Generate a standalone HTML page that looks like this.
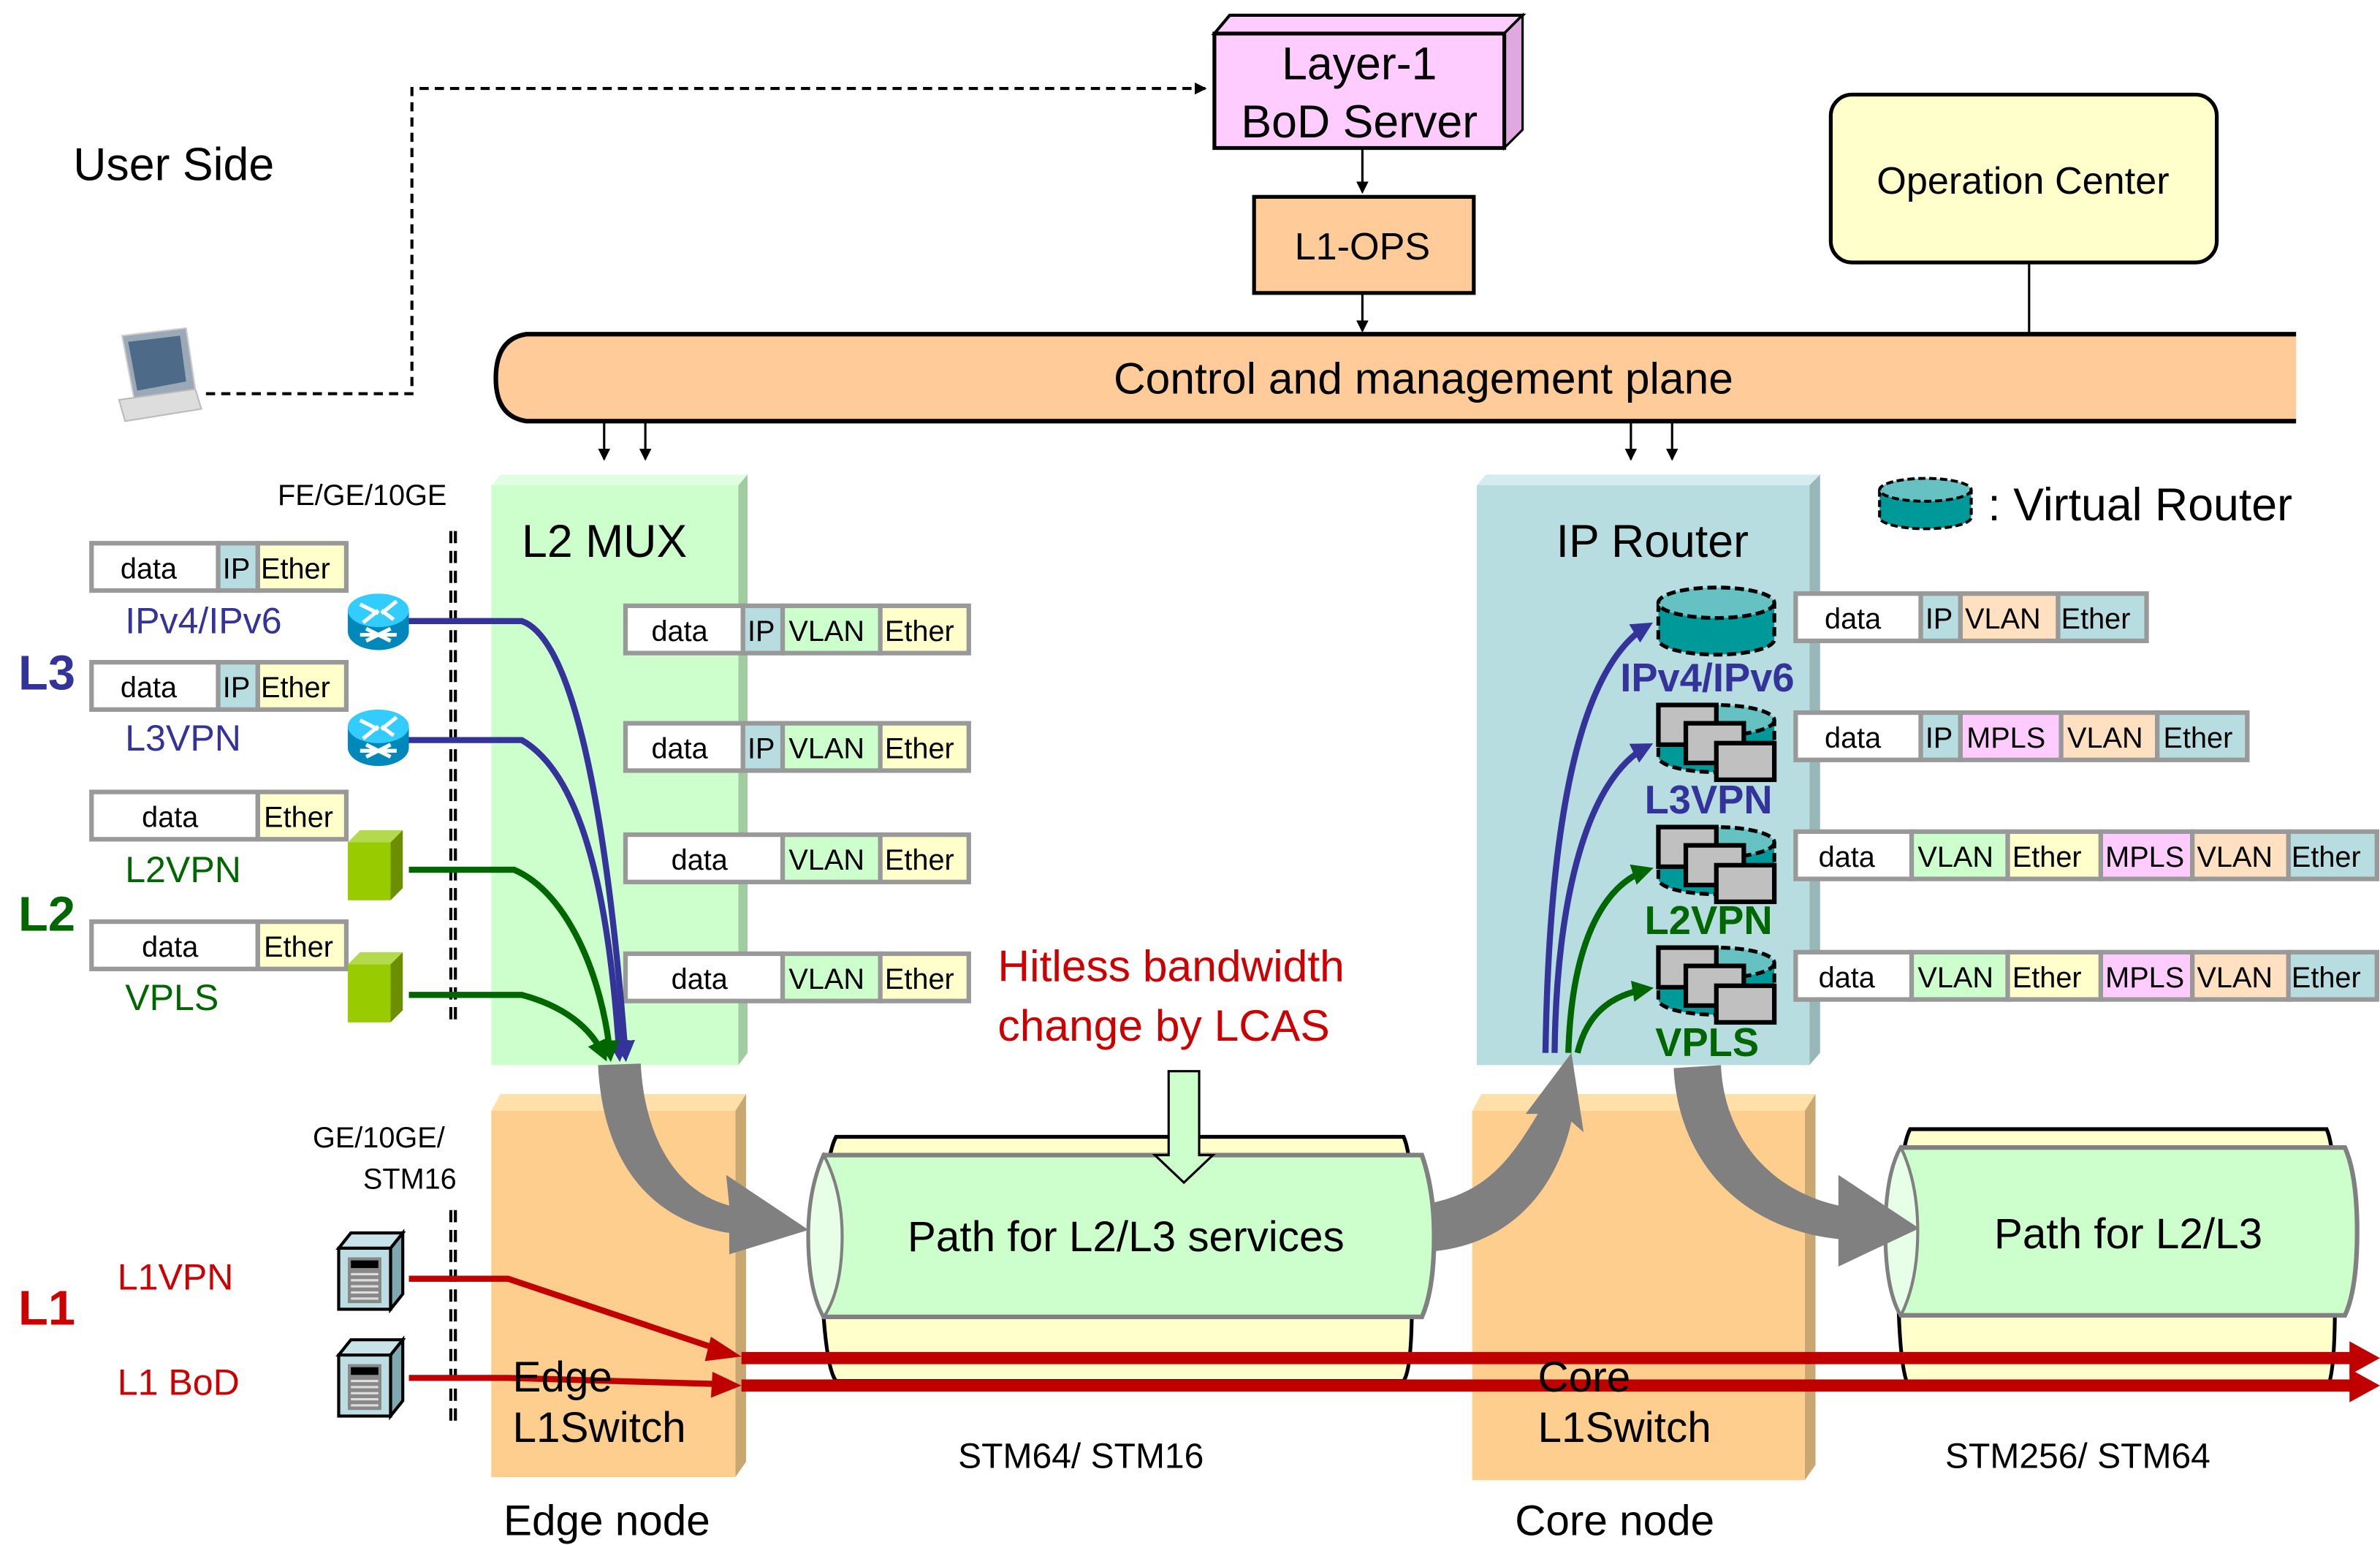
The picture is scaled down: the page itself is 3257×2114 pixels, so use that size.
<!DOCTYPE html>
<html><head><meta charset="utf-8"><style>
html,body{margin:0;padding:0;background:#fff;}
svg{display:block;}
text{font-family:"Liberation Sans",sans-serif;}
</style></head><body>
<svg width="3257" height="2114" viewBox="0 0 1560 1012.5" preserveAspectRatio="none" xmlns="http://www.w3.org/2000/svg">
<defs>
<marker id="ah" markerWidth="8" markerHeight="8" refX="7" refY="4" orient="auto" markerUnits="userSpaceOnUse"><path d="M0,0 L8,4 L0,8 z" fill="#000"/></marker>
<marker id="ahb" markerWidth="14" markerHeight="14" refX="10" refY="7" orient="auto" markerUnits="userSpaceOnUse"><path d="M0,0 L14,7 L0,14 z" fill="#333399"/></marker>
<marker id="ahg" markerWidth="14" markerHeight="14" refX="10" refY="7" orient="auto" markerUnits="userSpaceOnUse"><path d="M0,0 L14,7 L0,14 z" fill="#006600"/></marker>
<g id="router">
<ellipse cx="20" cy="26" rx="20" ry="12" fill="#0088bb"/>
<rect x="0" y="12" width="40" height="14" fill="#0088bb"/>
<ellipse cx="20" cy="12" rx="20" ry="11" fill="#33ccff"/>
<path d="M8,8 L20,14 M32,6 L22,14 M10,20 L20,12 M30,18 L22,12 M8,28 L32,28 M12,24 L28,32 M12,32 L28,24" stroke="#fff" stroke-width="2.5"/>
</g>
<g id="cube">
<rect x="0" y="8" width="28" height="38" fill="#99cc00"/>
<polygon points="0,8 8,0 36,0 28,8" fill="#b3d94d"/>
<polygon points="28,8 36,0 36,38 28,46" fill="#6b8f00"/>
</g>
<g id="server">
<polygon points="0,10 8,0 42,0 34,10" fill="#c8e4e8" stroke="#000" stroke-width="2"/>
<polygon points="34,10 42,0 42,40 34,50" fill="#7fa8b0" stroke="#000" stroke-width="2"/>
<rect x="0" y="10" width="34" height="40" fill="#bcdde2" stroke="#000" stroke-width="2"/>
<rect x="6" y="16" width="22" height="30" fill="#888"/>
<rect x="8" y="18" width="18" height="5" fill="#000"/>
<path d="M8,27h18M8,31h18M8,35h18M8,39h18M8,43h18" stroke="#ddd" stroke-width="1.5"/>
</g>
<g id="vr">
<path d="M0,12 L0,36 A38,10 0 0 0 76,36 L76,12" fill="#009999" stroke="#000" stroke-width="2.5" stroke-dasharray="6,3"/>
<ellipse cx="38" cy="12" rx="38" ry="10" fill="#66c2c2" stroke="#000" stroke-width="2.5" stroke-dasharray="6,3"/>
</g>
<g id="vrb">
<use href="#vr"/>
<rect x="0" y="2" width="38" height="26" fill="#c0c0c0" stroke="#000" stroke-width="3"/>
<rect x="18" y="14" width="38" height="26" fill="#c0c0c0" stroke="#000" stroke-width="3"/>
<rect x="38" y="27" width="38" height="24" fill="#c0c0c0" stroke="#000" stroke-width="3"/>
</g>
</defs>

<!-- User side -->
<text x="48" y="118" font-size="30">User Side</text>
<g>
<polygon points="80,220 122,215 128,255 88,262" fill="#9aa8b8" stroke="#ccc"/>
<polygon points="84,224 118,220 122,250 90,256" fill="#4d6b88"/>
<polygon points="78,262 128,255 132,268 82,276" fill="#ddd" stroke="#bbb"/>
</g>
<path d="M135,258 H270 V58 H790" fill="none" stroke="#000" stroke-width="2" stroke-dasharray="6,4" marker-end="url(#ah)"/>

<!-- BoD server -->
<polygon points="796,22 806,10 998,10 986,22" fill="#ffccff" stroke="#000" stroke-width="2"/>
<polygon points="986,22 998,10 998,85 986,97" fill="#e0a8e0" stroke="#000" stroke-width="1.5"/>
<rect x="796" y="22" width="190" height="75" fill="#ffccff" stroke="#000" stroke-width="2.5"/>
<text x="891" y="52" font-size="30" text-anchor="middle">Layer-1</text>
<text x="891" y="90" font-size="30" text-anchor="middle">BoD Server</text>
<line x1="893" y1="97" x2="893" y2="126" stroke="#000" stroke-width="1.5" marker-end="url(#ah)"/>
<rect x="822" y="129" width="144" height="63" fill="#ffcc99" stroke="#000" stroke-width="2.5"/>
<text x="893" y="170" font-size="25" text-anchor="middle">L1-OPS</text>
<line x1="893" y1="192" x2="893" y2="217" stroke="#000" stroke-width="1.5" marker-end="url(#ah)"/>

<!-- Operation center -->
<rect x="1200" y="62" width="253" height="110" rx="14" fill="#ffffcc" stroke="#000" stroke-width="2.5"/>
<text x="1326" y="127" font-size="25" text-anchor="middle">Operation Center</text>
<line x1="1330" y1="172" x2="1330" y2="219" stroke="#000" stroke-width="1.5"/>

<!-- control plane -->
<path d="M1505,219 H345 Q325,222 325,248 Q325,273 345,276 H1505 Z" fill="#ffcc99"/>
<path d="M1505,219 H345 Q325,222 325,248 Q325,273 345,276 H1505" fill="none" stroke="#000" stroke-width="3"/>
<text x="933" y="258" font-size="29" text-anchor="middle">Control and management plane</text>
<g stroke="#000" stroke-width="1.5">
<line x1="396" y1="277" x2="396" y2="301" marker-end="url(#ah)"/>
<line x1="423" y1="277" x2="423" y2="301" marker-end="url(#ah)"/>
<line x1="1069" y1="277" x2="1069" y2="301" marker-end="url(#ah)"/>
<line x1="1096" y1="277" x2="1096" y2="301" marker-end="url(#ah)"/>
</g>

<!-- L2 MUX -->
<polygon points="322,318 328,311 490,311 484,318" fill="#e0ffe0"/>
<polygon points="484,318 490,311 490,690 484,698" fill="#a0cca0"/>
<rect x="322" y="318" width="162" height="380" fill="#ccffcc"/>
<text x="342" y="365" font-size="30">L2 MUX</text>
<!-- Edge L1 switch -->
<polygon points="322,728 328,717 489,717 482,728" fill="#ffe0a8"/>
<polygon points="482,728 489,717 489,958 482,968" fill="#c8a870"/>
<rect x="322" y="728" width="160" height="240" fill="#fdce8e"/>
<!-- IP Router -->
<polygon points="968,318 974,311 1193,311 1186,318" fill="#d4ecee"/>
<polygon points="1186,318 1193,311 1193,690 1186,698" fill="#98b8b8"/>
<rect x="968" y="318" width="218" height="380" fill="#b8dde0"/>
<text x="1020" y="365" font-size="30">IP Router</text>
<!-- Core L1 switch -->
<polygon points="965,728 971,717 1190,717 1183,728" fill="#ffe0a8"/>
<polygon points="1183,728 1190,717 1190,960 1183,970" fill="#c8a870"/>
<rect x="965" y="728" width="218" height="242" fill="#fdce8e"/>

<!-- left labels -->
<text x="182" y="331" font-size="19">FE/GE/10GE</text>
<line x1="297" y1="348" x2="297" y2="668" stroke="#000" stroke-width="5" stroke-dasharray="8,5"/>
<line x1="297" y1="348" x2="297" y2="668" stroke="#fff" stroke-width="1"/>
<text x="12" y="452" font-size="32" font-weight="bold" fill="#333399">L3</text>
<text x="12" y="610" font-size="32" font-weight="bold" fill="#006600">L2</text>
<text x="12" y="868" font-size="32" font-weight="bold" fill="#cc0000">L1</text>
<text x="82" y="415" font-size="24" fill="#333399">IPv4/IPv6</text>
<text x="82" y="492" font-size="24" fill="#333399">L3VPN</text>
<text x="82" y="578" font-size="24" fill="#006600">L2VPN</text>
<text x="82" y="662" font-size="24" fill="#006600">VPLS</text>

<g font-size="19" stroke="#999" stroke-width="3">
<rect x="60" y="356" width="83" height="31" fill="#fff"/><rect x="143" y="356" width="26" height="31" fill="#b8dde0"/><rect x="169" y="356" width="58" height="31" fill="#ffffcc"/>
<rect x="60" y="434" width="83" height="31" fill="#fff"/><rect x="143" y="434" width="26" height="31" fill="#b8dde0"/><rect x="169" y="434" width="58" height="31" fill="#ffffcc"/>
<rect x="60" y="519" width="109" height="31" fill="#fff"/><rect x="169" y="519" width="58" height="31" fill="#ffffcc"/>
<rect x="60" y="604" width="109" height="31" fill="#fff"/><rect x="169" y="604" width="58" height="31" fill="#ffffcc"/>
<rect x="410" y="397" width="77" height="31" fill="#fff"/><rect x="487" y="397" width="26" height="31" fill="#b8dde0"/><rect x="513" y="397" width="64" height="31" fill="#ccffcc"/><rect x="577" y="397" width="58" height="31" fill="#ffffcc"/>
<rect x="410" y="474" width="77" height="31" fill="#fff"/><rect x="487" y="474" width="26" height="31" fill="#b8dde0"/><rect x="513" y="474" width="64" height="31" fill="#ccffcc"/><rect x="577" y="474" width="58" height="31" fill="#ffffcc"/>
<rect x="410" y="547" width="103" height="31" fill="#fff"/><rect x="513" y="547" width="64" height="31" fill="#ccffcc"/><rect x="577" y="547" width="58" height="31" fill="#ffffcc"/>
<rect x="410" y="625" width="103" height="31" fill="#fff"/><rect x="513" y="625" width="64" height="31" fill="#ccffcc"/><rect x="577" y="625" width="58" height="31" fill="#ffffcc"/>
<rect x="1177" y="389" width="82" height="31" fill="#fff"/><rect x="1259" y="389" width="26" height="31" fill="#b8dde0"/><rect x="1285" y="389" width="64" height="31" fill="#ffe0c0"/><rect x="1349" y="389" width="58" height="31" fill="#b8dde0"/>
<rect x="1177" y="467" width="82" height="31" fill="#fff"/><rect x="1259" y="467" width="26" height="31" fill="#b8dde0"/><rect x="1285" y="467" width="66" height="31" fill="#ffccff"/><rect x="1351" y="467" width="63" height="31" fill="#ffe0c0"/><rect x="1414" y="467" width="59" height="31" fill="#b8dde0"/>
<rect x="1177" y="545" width="76" height="31" fill="#fff"/><rect x="1253" y="545" width="63" height="31" fill="#ccffcc"/><rect x="1316" y="545" width="61" height="31" fill="#ffffcc"/><rect x="1377" y="545" width="60" height="31" fill="#ffccff"/><rect x="1437" y="545" width="63" height="31" fill="#ffe0c0"/><rect x="1500" y="545" width="58" height="31" fill="#b8dde0"/>
<rect x="1177" y="624" width="76" height="31" fill="#fff"/><rect x="1253" y="624" width="63" height="31" fill="#ccffcc"/><rect x="1316" y="624" width="61" height="31" fill="#ffffcc"/><rect x="1377" y="624" width="60" height="31" fill="#ffccff"/><rect x="1437" y="624" width="63" height="31" fill="#ffe0c0"/><rect x="1500" y="624" width="58" height="31" fill="#b8dde0"/>
</g>
<g font-size="19">
<text x="79" y="379">data</text><text x="146" y="379">IP</text><text x="171" y="379">Ether</text>
<text x="79" y="457">data</text><text x="146" y="457">IP</text><text x="171" y="457">Ether</text>
<text x="93" y="542">data</text><text x="173" y="542">Ether</text>
<text x="93" y="627">data</text><text x="173" y="627">Ether</text>
<text x="427" y="420">data</text><text x="490" y="420">IP</text><text x="517" y="420">VLAN</text><text x="580" y="420">Ether</text>
<text x="427" y="497">data</text><text x="490" y="497">IP</text><text x="517" y="497">VLAN</text><text x="580" y="497">Ether</text>
<text x="440" y="570">data</text><text x="517" y="570">VLAN</text><text x="580" y="570">Ether</text>
<text x="440" y="648">data</text><text x="517" y="648">VLAN</text><text x="580" y="648">Ether</text>
<text x="1196" y="412">data</text><text x="1262" y="412">IP</text><text x="1288" y="412">VLAN</text><text x="1351" y="412">Ether</text>
<text x="1196" y="490">data</text><text x="1262" y="490">IP</text><text x="1289" y="490">MPLS</text><text x="1355" y="490">VLAN</text><text x="1418" y="490">Ether</text>
<text x="1192" y="568">data</text><text x="1257" y="568">VLAN</text><text x="1319" y="568">Ether</text><text x="1380" y="568">MPLS</text><text x="1440" y="568">VLAN</text><text x="1502" y="568">Ether</text>
<text x="1192" y="647">data</text><text x="1257" y="647">VLAN</text><text x="1319" y="647">Ether</text><text x="1380" y="647">MPLS</text><text x="1440" y="647">VLAN</text><text x="1502" y="647">Ether</text>
</g>

<use href="#router" x="228" y="388"/>
<use href="#router" x="228" y="464"/>
<use href="#cube" x="228" y="544"/>
<use href="#cube" x="228" y="624"/>

<g fill="none" stroke-width="4">
<path d="M268,407 H342 C380,420 400,560 410,692" stroke="#333399" marker-end="url(#ahb)"/>
<path d="M268,485 H342 C385,510 400,600 406,692" stroke="#333399" marker-end="url(#ahb)"/>
<path d="M268,570 H337 C372,585 395,640 400,692" stroke="#006600" marker-end="url(#ahg)"/>
<path d="M268,652 H342 C372,660 388,675 396,692" stroke="#006600" marker-end="url(#ahg)"/>
</g>

<path d="M392,698 L420,697 C422,740 440,780 478,790 L476,770 L530,806 L478,822 L478,808 C425,800 395,760 392,698 Z" fill="#808080"/>

<path d="M548,745 H920 Q927,760 925,825 Q927,895 920,905 H548 Q540,895 538,825 Q540,760 548,745 Z" fill="#ffffcc" stroke="#000" stroke-width="2.5"/>
<path d="M540,757 H932 Q940,780 940,810 Q940,845 932,863 H540 Q530,845 530,810 Q530,780 540,757 Z" fill="#ccffcc" stroke="#808080" stroke-width="3"/>
<path d="M540,757 Q552,780 552,810 Q552,845 540,863 Q530,845 530,810 Q530,780 540,757 Z" fill="#e6ffe6" stroke="#808080" stroke-width="2"/>
<text x="738" y="820" font-size="28" text-anchor="middle">Path for L2/L3 services</text>
<text x="628" y="962" font-size="23">STM64/ STM16</text>

<text x="654" y="643" font-size="29" fill="#cc0000">Hitless bandwidth</text>
<text x="654" y="682" font-size="29" fill="#cc0000">change by LCAS</text>
<path d="M766,702 H786 V757 H795 L776,775 L757,757 H766 Z" fill="#ccffcc" stroke="#000" stroke-width="1.5"/>

<path d="M1252,740 H1525 Q1532,755 1530,825 Q1532,900 1525,910 H1252 Q1244,900 1244,825 Q1244,755 1252,740 Z" fill="#ffffcc" stroke="#000" stroke-width="2.5"/>
<path d="M1246,752 H1537 Q1545,770 1545,807 Q1545,845 1537,862 H1246 Q1236,845 1236,807 Q1236,770 1246,752 Z" fill="#ccffcc" stroke="#808080" stroke-width="3"/>
<path d="M1246,752 Q1257,775 1257,807 Q1257,840 1246,862 Q1236,845 1236,807 Q1236,770 1246,752 Z" fill="#e6ffe6" stroke="#808080" stroke-width="2"/>
<text x="1395" y="818" font-size="28" text-anchor="middle">Path for L2/L3</text>
<text x="1275" y="962" font-size="23">STM256/ STM64</text>

<path d="M940,788 C975,780 990,760 1008,730 L1000,730 L1030,690 L1038,742 L1030,735 C1020,780 990,815 940,820 Z" fill="#808080"/>
<path d="M1097,700 L1128,698 C1130,745 1160,780 1205,790 L1205,770 L1258,805 L1205,830 L1205,812 C1140,805 1100,760 1097,700 Z" fill="#808080"/>

<use href="#vr" x="1087" y="383"/>
<use href="#vrb" x="1087" y="460"/>
<use href="#vrb" x="1087" y="540"/>
<use href="#vrb" x="1087" y="619"/>
<text x="1062" y="453" font-size="26" font-weight="bold" fill="#333399">IPv4/IPv6</text>
<text x="1078" y="533" font-size="26" font-weight="bold" fill="#333399">L3VPN</text>
<text x="1078" y="612" font-size="26" font-weight="bold" fill="#006600">L2VPN</text>
<text x="1085" y="692" font-size="26" font-weight="bold" fill="#006600">VPLS</text>
<g fill="none" stroke-width="4">
<path d="M1013,690 C1015,560 1030,440 1080,410" stroke="#333399" marker-end="url(#ahb)"/>
<path d="M1019,690 C1020,590 1040,510 1080,489" stroke="#333399" marker-end="url(#ahb)"/>
<path d="M1028,690 C1030,620 1050,580 1080,570" stroke="#006600" marker-end="url(#ahg)"/>
<path d="M1034,690 C1040,665 1055,652 1080,648" stroke="#006600" marker-end="url(#ahg)"/>
</g>

<use href="#vr" x="1232" y="312" transform="translate(1232,312) scale(0.79,0.75) translate(-1232,-312)"/>
<text x="1303" y="341" font-size="30">: Virtual Router</text>

<text x="205" y="752" font-size="19">GE/10GE/</text>
<text x="238" y="779" font-size="19">STM16</text>
<line x1="297" y1="793" x2="297" y2="935" stroke="#000" stroke-width="5" stroke-dasharray="8,5"/>
<line x1="297" y1="793" x2="297" y2="935" stroke="#fff" stroke-width="1"/>
<use href="#server" x="222" y="808"/>
<use href="#server" x="222" y="878"/>
<text x="77" y="845" font-size="24" fill="#cc0000">L1VPN</text>
<text x="77" y="914" font-size="24" fill="#cc0000">L1 BoD</text>
<g stroke="#c00000" stroke-width="4" fill="none">
<path d="M268,838 H333 L470,884"/>
<path d="M268,903 H333 L470,907"/>
</g>
<polygon points="486,889 466,876 462,892" fill="#c00000"/>
<polygon points="486,908 467,899 466,916" fill="#c00000"/>
<rect x="486" y="886" width="1055" height="8" fill="#c00000"/>
<rect x="486" y="904" width="1055" height="8" fill="#c00000"/>
<polygon points="1540,879 1560,890 1540,901" fill="#c00000"/>
<polygon points="1540,897 1560,908 1540,919" fill="#c00000"/>

<text x="336" y="912" font-size="28">Edge</text>
<text x="336" y="945" font-size="28">L1Switch</text>
<text x="1008" y="912" font-size="28">Core</text>
<text x="1008" y="945" font-size="28">L1Switch</text>
<text x="330" y="1006" font-size="28">Edge node</text>
<text x="993" y="1006" font-size="28">Core node</text>
</svg>
</body></html>
